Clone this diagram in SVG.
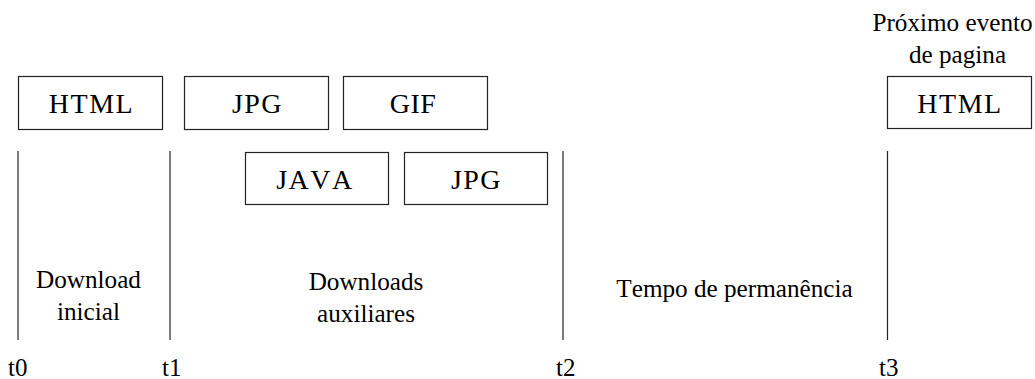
<svg xmlns="http://www.w3.org/2000/svg" width="1035" height="379" viewBox="0 0 1035 379">
<style>
  .box{fill:#fff;stroke:#222;stroke-width:1.2}
  .tl{stroke:#222;stroke-width:1.2}
  text{font-kerning:none}
</style>
<rect width="1035" height="379" fill="#fff"/>
<g id="timeline" font-family="Liberation Serif, Times New Roman, DejaVu Serif, serif" font-size="25" fill="#000">
  <line class="tl" x1="18" y1="151" x2="18" y2="340"/>
  <line class="tl" x1="170" y1="151" x2="170" y2="340"/>
  <line class="tl" x1="563" y1="151" x2="563" y2="340"/>
  <line class="tl" x1="887.5" y1="151" x2="887.5" y2="340"/>
  <text x="8" y="376">t0</text>
  <text x="162" y="376">t1</text>
  <text x="556" y="376">t2</text>
  <text x="879" y="376">t3</text>
</g>
<g font-family="Liberation Serif, Times New Roman, DejaVu Serif, serif" font-size="28" fill="#000" text-anchor="middle" letter-spacing="1.5">
<g id="html1"><rect class="box" x="18.5" y="76.5" width="144" height="53"/><text x="91.5" y="113">HTML</text></g>
<g id="jpg1"><rect class="box" x="184.5" y="76.5" width="144" height="53"/><text x="257.5" y="113">JPG</text></g>
<g id="gif"><rect class="box" x="343.5" y="76.5" width="144" height="53"/><text x="413" y="113" letter-spacing="0.5">GIF</text></g>
<g id="java"><rect class="box" x="245.5" y="152.5" width="143" height="52"/><text x="315" y="189">JAVA</text></g>
<g id="jpg2"><rect class="box" x="404.5" y="152.5" width="143" height="52"/><text x="476.5" y="189">JPG</text></g>
<g id="html2"><rect class="box" x="887.5" y="76.5" width="144" height="52"/><text x="960" y="113">HTML</text></g>
</g>
<g id="labels" font-family="Liberation Serif, Times New Roman, DejaVu Serif, serif" font-size="25.2" fill="#000" text-anchor="middle">
  <text x="952.5" y="31">Próximo evento</text>
  <text x="957.5" y="63">de pagina</text>
  <text x="88.5" y="288">Download</text>
  <text x="88.5" y="320">inicial</text>
  <text x="366" y="290">Downloads</text>
  <text x="366" y="322">auxiliares</text>
  <text x="734.5" y="297">Tempo de permanência</text>
</g>
</svg>
